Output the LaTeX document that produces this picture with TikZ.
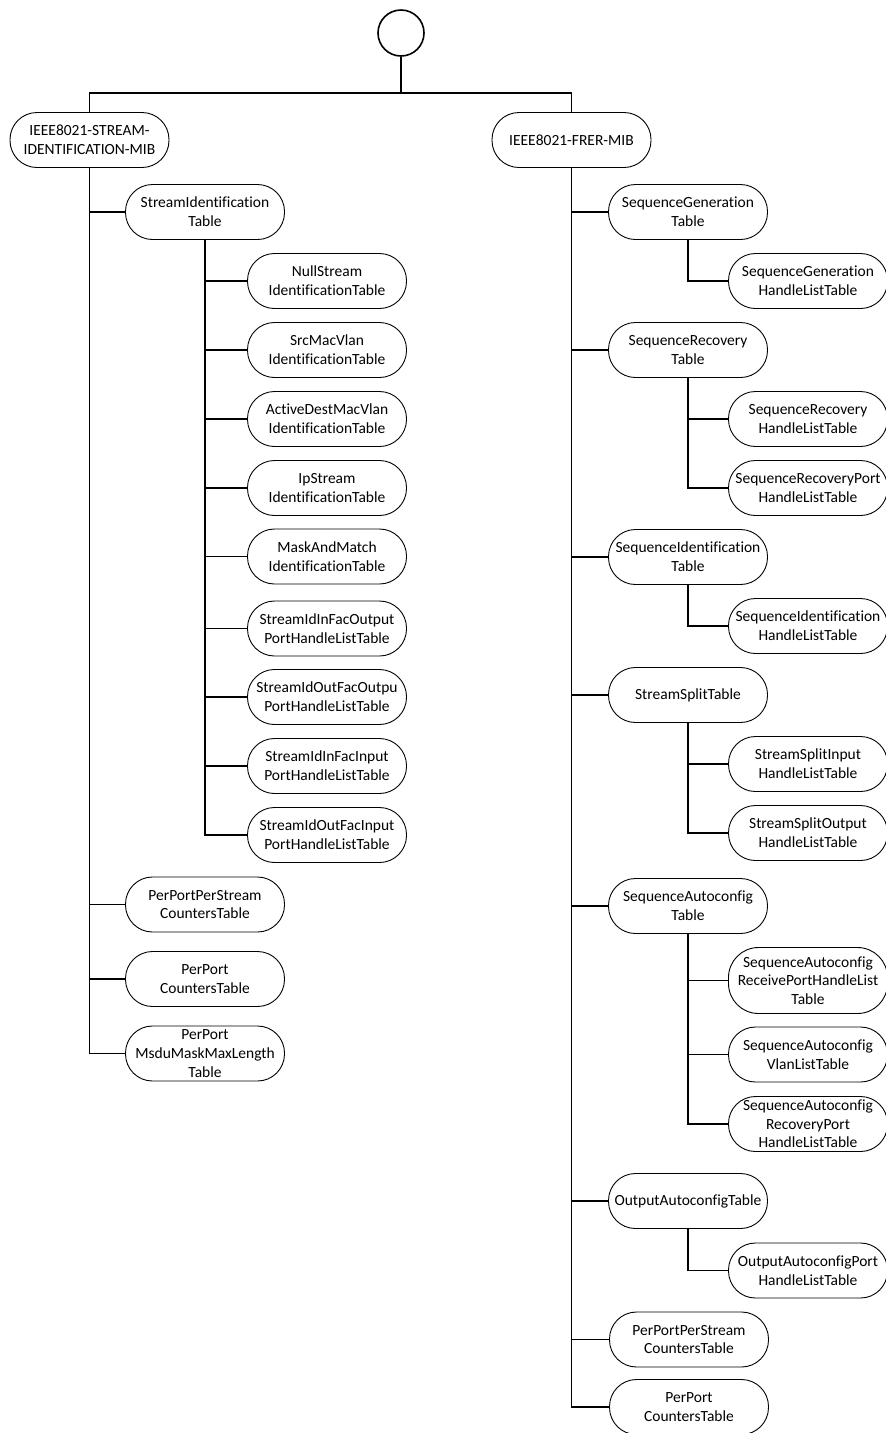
\documentclass[tikz,border=0pt]{standalone}
\usepackage{fontspec}
\setmainfont[Ligatures=NoCommon]{Carlito}
\begin{document}
\begin{tikzpicture}[x=1pt,y=-1pt,
  tbl/.style={draw, line width=0.9pt, rounded corners=27pt, minimum width=159pt, minimum height=55pt,
    inner sep=0pt, align=center, font=\fontsize{15.5}{18.7}\selectfont},
  tall/.style={minimum height=66pt, rounded corners=30pt},
  conn/.style={line width=1.8pt}]
\useasboundingbox (0,0) rectangle (886,1433);
\node[draw, circle, line width=1.6pt, minimum size=46pt, inner sep=0pt] (root) at (401,33) {};
\coordinate (bus) at (401,93);
% left subtree
\node[tbl] (lm) at (89.5,140) {IEEE8021-STREAM-\\IDENTIFICATION-MIB};
\node[tbl] (sit) at (205,212) {StreamIdentification\\Table};
\node[tbl] (l1) at (327,281) {NullStream\\IdentificationTable};
\node[tbl] (l2) at (327,350) {SrcMacVlan\\IdentificationTable};
\node[tbl] (l3) at (327,419) {ActiveDestMacVlan\\IdentificationTable};
\node[tbl] (l4) at (327,488) {IpStream\\IdentificationTable};
\node[tbl] (l5) at (327,556.5) {MaskAndMatch\\IdentificationTable};
\node[tbl] (l6) at (327,628.5) {StreamIdInFacOutput\\PortHandleListTable};
\node[tbl] (l7) at (327,697) {StreamIdOutFacOutpu\\PortHandleListTable};
\node[tbl] (l8) at (327,766) {StreamIdInFacInput\\PortHandleListTable};
\node[tbl] (l9) at (327,835) {StreamIdOutFacInput\\PortHandleListTable};
\node[tbl] (ppps) at (205,904.5) {PerPortPerStream\\CountersTable};
\node[tbl] (ppc) at (205,979) {PerPort\\CountersTable};
\node[tbl] (ppm) at (205,1053.5) {PerPort\\MsduMaskMaxLength\\Table};
% right subtree
\node[tbl] (rm) at (571.5,140) {IEEE8021-FRER-MIB};
\node[tbl] (sgt) at (688,212) {SequenceGeneration\\Table};
\node[tbl] (sgh) at (808,281) {SequenceGeneration\\HandleListTable};
\node[tbl] (srt) at (688,350) {SequenceRecovery\\Table};
\node[tbl] (srh) at (808,419) {SequenceRecovery\\HandleListTable};
\node[tbl] (srp) at (808,488) {SequenceRecoveryPort\\HandleListTable};
\node[tbl] (sidt) at (688,557) {SequenceIdentification\\Table};
\node[tbl] (sidh) at (808,626) {SequenceIdentification\\HandleListTable};
\node[tbl] (sst) at (688,695) {StreamSplitTable};
\node[tbl] (ssi) at (808,764) {StreamSplitInput\\HandleListTable};
\node[tbl] (sso) at (808,833) {StreamSplitOutput\\HandleListTable};
\node[tbl] (sat) at (688,906) {SequenceAutoconfig\\Table};
\node[tbl, tall] (sar) at (808,980.5) {SequenceAutoconfig\\ReceivePortHandleList\\Table};
\node[tbl] (sav) at (808,1054.5) {SequenceAutoconfig\\VlanListTable};
\node[tbl] (sarp) at (808,1124) {SequenceAutoconfig\\RecoveryPort\\HandleListTable};
\node[tbl] (oat) at (688,1201) {OutputAutoconfigTable};
\node[tbl] (oap) at (808,1270.5) {OutputAutoconfigPort\\HandleListTable};
\node[tbl] (rpps) at (689,1339.5) {PerPortPerStream\\CountersTable};
\node[tbl] (rppc) at (689,1407) {PerPort\\CountersTable};
% connectors
\draw[conn] (root.south) -- (bus);
\draw[conn] (lm.north) -- (lm.north |- bus) -- (rm.north |- bus) -- (rm.north);
\foreach \c in {sit,ppps,ppc,ppm} \draw[conn] (lm.south) |- (\c.west);
\foreach \c in {l1,l2,l3,l4,l5,l6,l7,l8,l9} \draw[conn] (sit.south) |- (\c.west);
\foreach \c in {sgt,srt,sidt,sst,sat,oat,rpps,rppc} \draw[conn] (rm.south) |- (\c.west);
\draw[conn] (sgt.south) |- (sgh.west);
\foreach \c in {srh,srp} \draw[conn] (srt.south) |- (\c.west);
\draw[conn] (sidt.south) |- (sidh.west);
\foreach \c in {ssi,sso} \draw[conn] (sst.south) |- (\c.west);
\foreach \c in {sar,sav,sarp} \draw[conn] (sat.south) |- (\c.west);
\draw[conn] (oat.south) |- (oap.west);
\end{tikzpicture}
\end{document}
